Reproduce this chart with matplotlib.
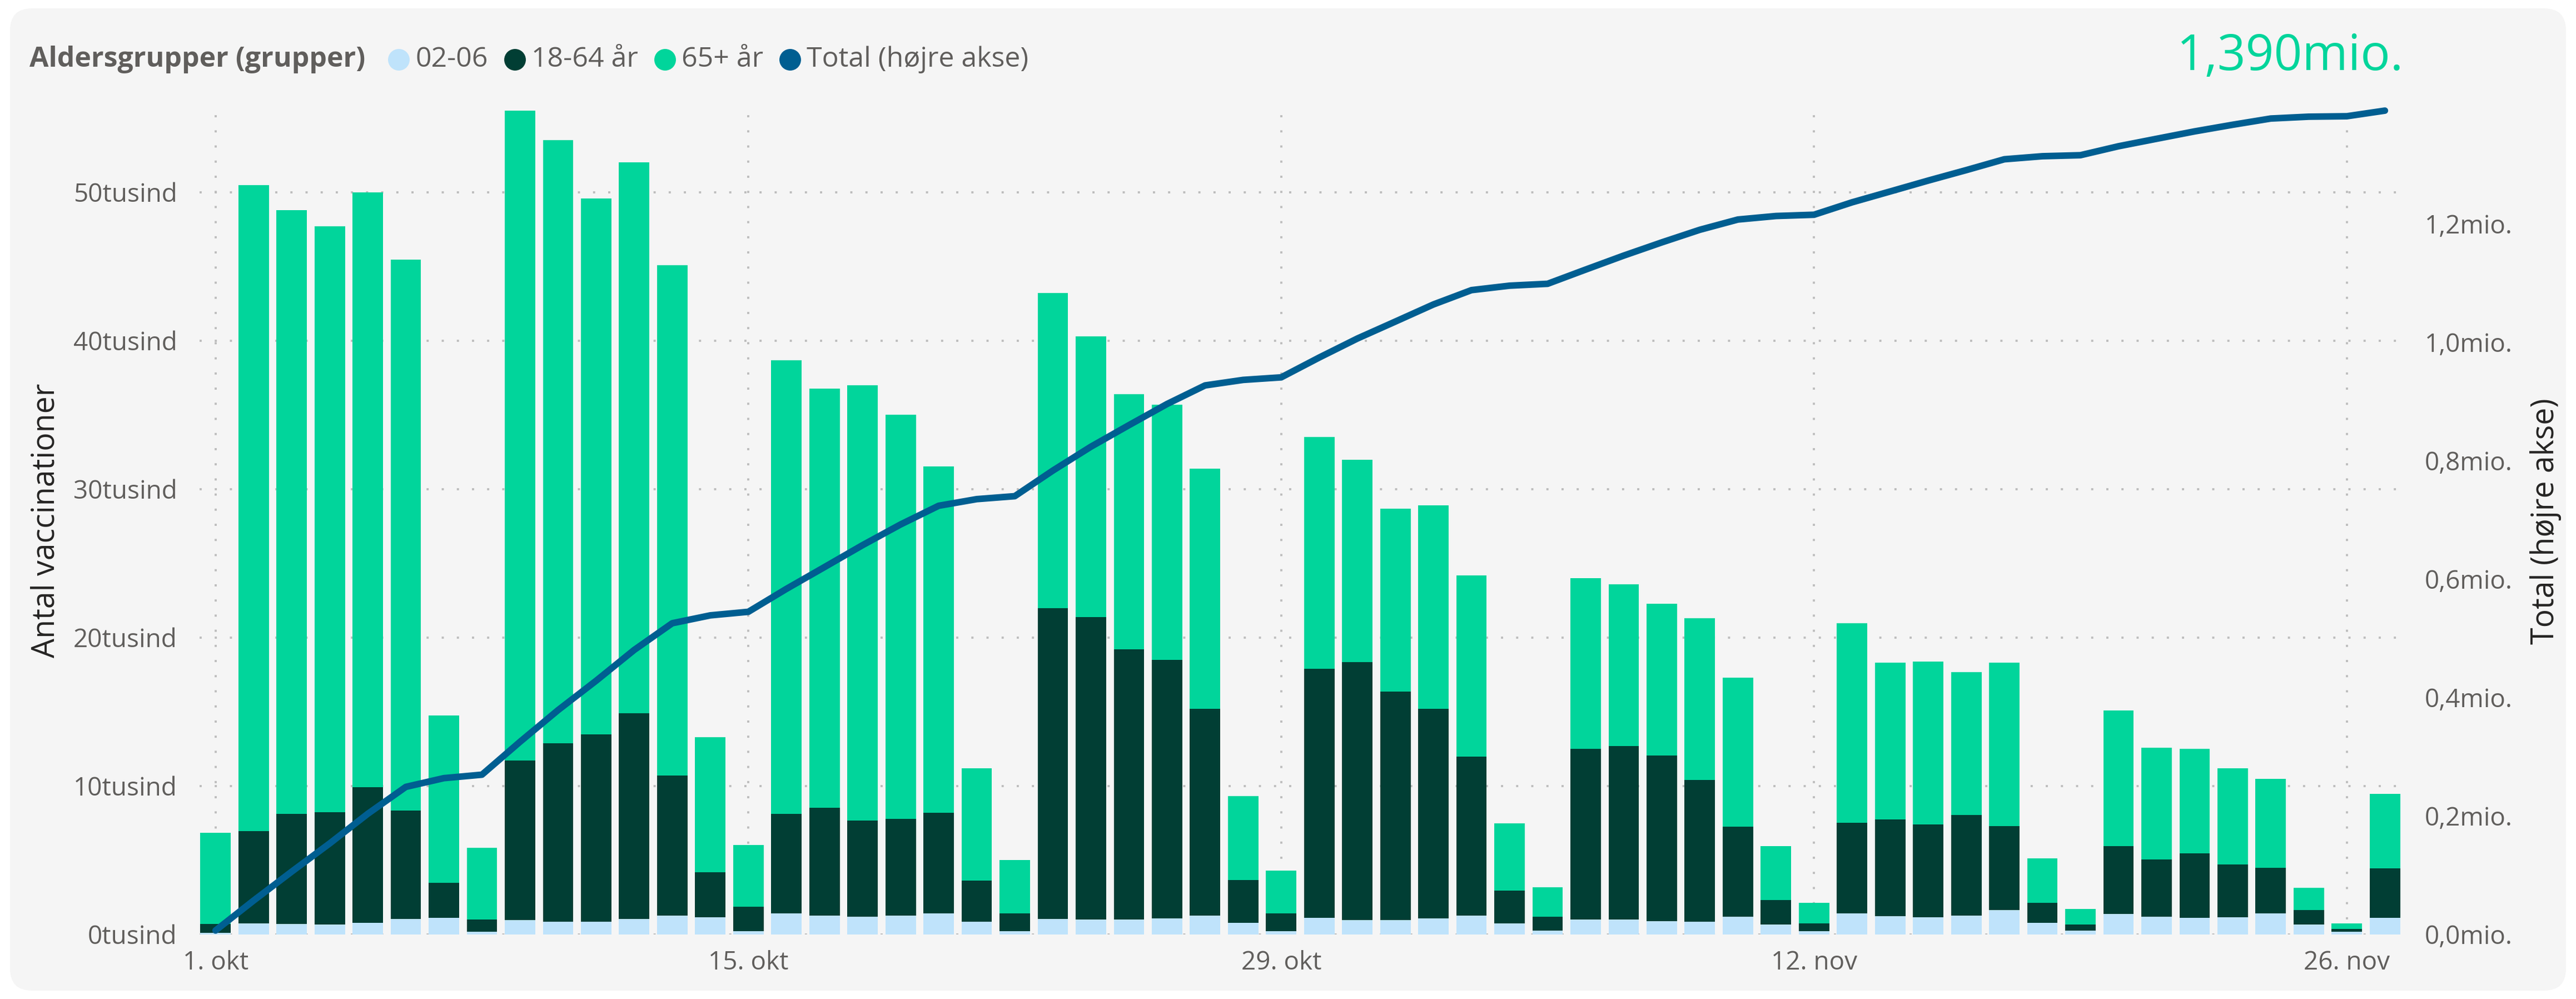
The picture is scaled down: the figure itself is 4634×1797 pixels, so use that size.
import numpy as np
import pandas as pd
import matplotlib
matplotlib.use("Agg")
import matplotlib.pyplot as plt
import matplotlib.dates as mdates
from matplotlib.patches import FancyBboxPatch
from matplotlib.lines import Line2D
from matplotlib.transforms import IdentityTransform
from matplotlib.ticker import FuncFormatter

plt.rcParams['font.family'] = ['Open Sans', 'DejaVu Sans']

# one bar per day, 1. okt - 27. nov
dates = pd.date_range('2021-10-01', '2021-11-27', freq='D')
tick_dates = ['2021-10-01', '2021-10-15', '2021-10-29', '2021-11-12', '2021-11-26']
tick_labels = ['1. okt', '15. okt', '29. okt', '12. nov', '26. nov']

# vaccinations per day in thousands
age_02_06 = [0.10, 0.74, 0.70, 0.67, 0.78, 1.04, 1.11, 0.18, 0.96, 0.85,
             0.85, 1.04, 1.26, 1.15, 0.22, 1.41, 1.29, 1.18, 1.29, 1.41,
             0.85, 0.22, 1.04, 1.00, 1.00, 1.07, 1.26, 0.78, 0.22, 1.11,
             0.96, 0.96, 1.07, 1.26, 0.74, 0.26, 1.00, 1.00, 0.89, 0.85,
             1.18, 0.67, 0.22, 1.41, 1.22, 1.15, 1.29, 1.66, 0.78, 0.26,
             1.40, 1.18, 1.11, 1.15, 1.44, 0.67, 0.18, 1.11]
age_18_64 = [0.60, 6.21, 7.44, 7.58, 9.13, 7.32, 2.37, 0.82, 10.76, 12.05,
             12.65, 13.86, 9.44, 3.05, 1.67, 6.73, 7.25, 6.48, 6.51, 6.79,
             2.77, 1.19, 20.96, 20.40, 18.20, 17.43, 13.94, 2.88, 1.22, 16.79,
             17.38, 15.39, 14.13, 10.74, 2.22, 0.92, 11.50, 11.70, 11.17, 9.55,
             6.07, 1.66, 0.52, 6.13, 6.55, 6.25, 6.77, 5.66, 1.36, 0.41,
             4.55, 3.89, 4.36, 3.58, 3.07, 0.96, 0.19, 3.33]
age_65 = [6.14, 43.53, 40.66, 39.45, 40.09, 37.09, 11.28, 4.84, 43.78, 40.60,
          36.10, 37.10, 34.40, 9.10, 4.14, 30.56, 28.22, 29.34, 27.20, 23.35,
          7.58, 3.59, 21.20, 18.90, 17.20, 17.20, 16.20, 5.66, 2.85, 15.60,
          13.66, 12.35, 13.70, 12.20, 4.54, 2.00, 11.50, 10.90, 10.24, 10.90,
          10.05, 3.62, 1.40, 13.43, 10.53, 11.00, 9.62, 10.98, 3.00, 1.07,
          9.15, 7.53, 7.03, 6.47, 5.99, 1.51, 0.37, 5.03]

c_young = '#BFE3FB'
c_adult = '#013E34'
c_old = '#01D59B'
c_line = '#005E91'
c_text = '#605E5C'
c_grid = '#BDBDBD'

a = np.array(age_02_06) * 1000
b = np.array(age_18_64) * 1000
c = np.array(age_65) * 1000
total = a + b + c
cum = np.cumsum(total)
x = mdates.date2num(dates.to_pydatetime())
ticks_x = mdates.date2num(pd.to_datetime(tick_dates).to_pydatetime())

W, H = 4634, 1797
fig = plt.figure(figsize=(W / 100, H / 100), dpi=100)
fig.patches.append(FancyBboxPatch((18, 15), 4598, 1767,
                                  boxstyle="round,pad=0,rounding_size=40",
                                  transform=IdentityTransform(),
                                  fc='#F5F5F5', ec='none', zorder=-5))

ax = fig.add_axes([359 / W, 116 / H, 3960 / W, 1482 / H])
ax.set_facecolor('none')
for s in ax.spines.values():
    s.set_visible(False)

ax.bar(x, a, width=0.8, color=c_young, zorder=2)
ax.bar(x, b, width=0.8, bottom=a, color=c_adult, zorder=2)
ax.bar(x, c, width=0.8, bottom=a + b, color=c_old, zorder=2)

ax.set_xlim(x[0] - 0.42, x[-1] + 0.42)
ax.set_ylim(0, total.max())
yt = np.arange(0, 50001, 10000)
ax.set_yticks(yt)
ax.yaxis.set_major_formatter(FuncFormatter(lambda v, p: f"{int(round(v / 1000))}tusind"))
ax.set_xticks(ticks_x)
ax.set_xticklabels(tick_labels)
ax.tick_params(axis='y', length=0, labelsize=33, labelcolor=c_text, pad=29)
ax.tick_params(axis='x', length=0, labelsize=33, labelcolor=c_text, pad=20)

for y in yt:
    ax.axhline(y, color=c_grid, ls=(0, (1, 6)), lw=2.8, zorder=1)
for t in ticks_x:
    ax.axvline(t, color=c_grid, ls=(0, (1, 6)), lw=2.8, zorder=1)

ax2 = ax.twinx()
for s in ax2.spines.values():
    s.set_visible(False)
ax2.plot(x, cum, color=c_line, lw=8.5, solid_capstyle='round',
         solid_joinstyle='round', clip_on=False, zorder=5)
ax2.set_ylim(0, cum[-1])
ax2.set_yticks(np.arange(0, 1200001, 200000))
ax2.yaxis.set_major_formatter(FuncFormatter(lambda v, p: f"{v / 1e6:.1f}".replace('.', ',') + "mio."))
ax2.tick_params(axis='y', length=0, labelsize=33, labelcolor=c_text, pad=31)

fig.text(83 / W, 0.479, 'Antal vaccinationer', rotation=90, ha='center', va='center',
         fontsize=40, color='#252423')
fig.text(4580 / W, 0.478, 'Total (højre akse)', rotation=90, ha='center', va='center',
         fontsize=40, color='#252423')

fig.text(4324 / W, 0.943, '1,390mio.', ha='right', va='center', fontsize=64,
         color=c_old)

# legend in one row, like Power BI
ly = 1 - 107 / H
title = fig.text(53 / W, ly, 'Aldersgrupper (grupper)', ha='left', va='center',
                 fontsize=36, fontweight='bold', color=c_text)
fig.canvas.draw()
r = fig.canvas.get_renderer()
px = title.get_window_extent(r).x1 + 41
for col, lab in [(c_young, '02-06'), (c_adult, '18-64 år'),
                 (c_old, '65+ år'), (c_line, 'Total (højre akse)')]:
    fig.add_artist(Line2D([(px + 19) / W], [ly], marker='o', ms=27, ls='',
                          color=col, transform=fig.transFigure))
    t = fig.text((px + 49) / W, ly, lab, ha='left', va='center', fontsize=36,
                 color=c_text)
    px = t.get_window_extent(r).x1 + 29

fig.savefig('out.png', dpi=100, facecolor='white')
